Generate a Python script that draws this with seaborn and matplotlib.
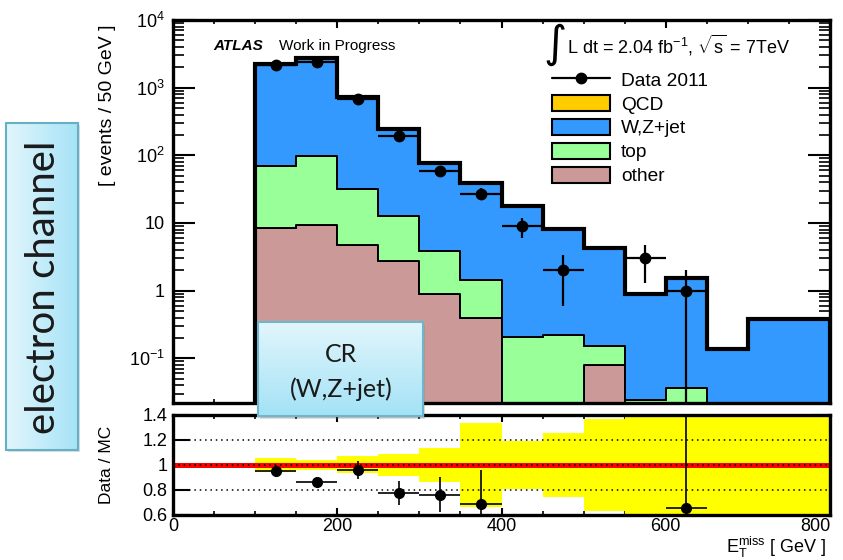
import numpy as np
import pandas as pd
import matplotlib
matplotlib.use("Agg")
import matplotlib.pyplot as plt
from matplotlib.lines import Line2D
from matplotlib.patches import Patch, Rectangle
from matplotlib.colors import LinearSegmentedColormap
from matplotlib.ticker import FixedLocator, MultipleLocator, LogLocator, NullFormatter, FuncFormatter
import seaborn as sns

# 50 GeV bins of missing transverse energy
bin_edges = np.arange(100, 801, 50)
bin_centers = bin_edges[:-1] + 25

# stacked background expectation (events / bin)
qcd = [0, 0, 0, 0, 0, 0, 0, 0, 0, 0, 0, 0, 0, 0]
wzjet = [2190, 2664, 685, 234, 73.1, 38.1, 17.5, 7.85, 4.13, 0.87, 1.48, 0.138, 0.382, 0.385]
top_quark = [61, 87, 27.4, 10.1, 2.97, 1.04, 0.21, 0.22, 0.073, 0.024, 0.037, 0, 0, 0]
other = [8.3, 9.3, 4.8, 2.7, 0.9, 0.39, 0, 0, 0.081, 0, 0, 0, 0, 0]

# observed events with statistical uncertainty
data = [2150, 2390, 688, 191, 58.6, 27.2, 9, 2, np.nan, 3, 1, np.nan, np.nan, np.nan]
data_err = [46, 49, 26, 14, 7.7, 5.2, 3, 1.4, np.nan, 1.7, 1.0, np.nan, np.nan, np.nan]

# ratio panel: uncertainty on data/MC and relative MC uncertainty band
ratio_err = [0.05, 0.03, 0.072, 0.096, 0.14, 0.27, 0.17, 0.7, np.nan, 2.0, 1.0, np.nan, np.nan, np.nan]
mc_band = [0.053, 0.04, 0.068, 0.09, 0.136, 0.333, 0.195, 0.255, 0.37, 0.6, 0.6, 0.6, 0.6, 0.6]

processes = ["QCD", "W,Z+jet", "top", "other"]
colors = {"QCD": "#FFCC00", "W,Z+jet": "#3399FF", "top": "#99FF99", "other": "#CC9999"}

sns.set_theme(style="ticks")
plt.rcParams.update({
    "font.family": ["Liberation Sans", "DejaVu Sans"],
    "mathtext.fontset": "custom",
    "mathtext.rm": "Liberation Sans",
    "mathtext.it": "Liberation Sans:italic",
    "mathtext.bf": "Liberation Sans:bold",
    "axes.linewidth": 2.4,
    "axes.edgecolor": "black",
    "xtick.direction": "in",
    "ytick.direction": "in",
    "xtick.color": "black",
    "ytick.color": "black",
    "text.color": "black",
})

fig = plt.figure(figsize=(8.43, 5.6), dpi=100)
ax = fig.add_axes([0.2052, 0.2795, 0.7794, 0.6848])
rax = fig.add_axes([0.2052, 0.0804, 0.7794, 0.1786])

frame = pd.DataFrame({
    "met": np.tile(bin_centers, len(processes)),
    "events": np.concatenate([qcd, wzjet, top_quark, other]),
    "process": np.repeat(processes, len(bin_centers)),
})
sns.histplot(data=frame, x="met", weights="events", hue="process",
             hue_order=processes, palette=colors, binwidth=50, binrange=(100, 800),
             multiple="stack", element="step", alpha=1.0,
             edgecolor="black", linewidth=1.4, legend=False, ax=ax)

total = np.array(qcd) + np.array(wzjet) + np.array(top_quark) + np.array(other)
ax.stairs(total, bin_edges, baseline=1e-4, color="black", linewidth=3.0, zorder=4)

ax.set_yscale("log")
ax.errorbar(bin_centers, data, yerr=data_err, xerr=25, fmt="o", color="black",
            ms=7.5, elinewidth=1.6, capsize=0, zorder=6)

ax.set_xlim(0, 800)
ax.set_ylim(0.0215, 1e4)
ax.set_xlabel("")
ax.set_ylabel("")

ax.xaxis.set_major_locator(MultipleLocator(200))
ax.xaxis.set_minor_locator(MultipleLocator(50))
ax.yaxis.set_major_locator(FixedLocator([0.1, 1, 10, 100, 1000, 10000]))
ax.yaxis.set_minor_locator(LogLocator(base=10, subs=np.arange(2, 10) * 1.0, numticks=20))
ax.yaxis.set_minor_formatter(NullFormatter())

def log_label(v, pos):
    names = {0.1: r"$10^{-1}$", 1: "1", 10: "10", 100: r"$10^{2}$",
             1000: r"$10^{3}$", 10000: r"$10^{4}$"}
    for k, s in names.items():
        if np.isclose(v, k):
            return s
    return ""

ax.yaxis.set_major_formatter(FuncFormatter(log_label))
ax.tick_params(which="both", top=True, right=True, labelbottom=False)
ax.tick_params(axis="y", which="major", length=16, width=1.5, labelsize=13, pad=6)
ax.tick_params(axis="y", which="minor", length=8, width=1.2)
ax.tick_params(axis="x", which="major", length=6, width=1.5)
ax.tick_params(axis="x", which="minor", length=3, width=1.2)

# ratio panel
rax.stairs(1 + np.array(mc_band), bin_edges, baseline=1 - np.array(mc_band),
           fill=True, color="#FFFF00", zorder=1)
rax.axhline(1.0, color="#FF0000", lw=3.6, zorder=2)
for level in (0.8, 1.0, 1.2):
    rax.axhline(level, color="black", lw=1.1, ls=(0, (1, 2.5)), zorder=3)

ratio = np.array(data) / total
in_range = (ratio >= 0.6) & (ratio <= 1.4)
rax.errorbar(bin_centers[in_range], ratio[in_range], yerr=np.array(ratio_err)[in_range],
             xerr=25, fmt="o", color="black", ms=7, elinewidth=1.2, capsize=0, zorder=5)

rax.set_xlim(0, 800)
rax.set_ylim(0.6, 1.4)
rax.xaxis.set_major_locator(MultipleLocator(200))
rax.xaxis.set_minor_locator(MultipleLocator(50))
rax.yaxis.set_major_locator(FixedLocator([0.6, 0.8, 1.0, 1.2, 1.4]))
rax.yaxis.set_major_formatter(FuncFormatter(lambda v, p: {0.6: "0.6", 0.8: "0.8", 1.0: "1", 1.2: "1.2", 1.4: "1.4"}.get(round(v, 1), "")))
rax.xaxis.set_major_formatter(FuncFormatter(lambda v, p: f"{v:.0f}"))
rax.tick_params(which="both", top=True, right=True)
rax.tick_params(axis="y", which="major", length=12, width=1.5, labelsize=13, pad=4)
rax.tick_params(axis="x", which="major", length=5, width=1.5, labelsize=13, pad=2)
rax.tick_params(axis="x", which="minor", length=3, width=1.2)

W, H = 843.0, 560.0

def fx(px):
    return px / W

def fy(py):
    return 1 - py / H

# axis titles
fig.text(fx(108), fy(105), "[ events / 50 GeV ]", rotation=90, ha="center", va="center", fontsize=14)
fig.text(fx(106), fy(465), "Data / MC", rotation=90, ha="center", va="center", fontsize=12.5)
fig.text(fx(826), fy(553), r"E$_{\mathrm{T}}^{\mathrm{miss}}$ [ GeV ]", ha="right", va="baseline", fontsize=13)

# experiment label
fig.text(fx(213), fy(50), "ATLAS", fontsize=11, weight="bold", style="italic", va="baseline")
fig.text(fx(279), fy(50), "Work in Progress", fontsize=11, va="baseline")

# luminosity and energy
fig.text(fx(543), fy(45), "\u222b", fontsize=32, family="DejaVu Sans", va="center", ha="left")
fig.text(fx(567), fy(54), r"L dt = 2.04 fb$^{-1}$, $\sqrt{\mathrm{s}}$ = 7TeV", fontsize=13, va="baseline")

handles = [Line2D([], [], color="black", marker="o", ms=7.5, lw=1.6)]
handles += [Patch(facecolor=colors[p], edgecolor="black", linewidth=1.5) for p in processes]
labels = ["Data 2011"] + processes
ax.legend(handles, labels, loc="upper left", bbox_to_anchor=(fx(552), fy(71)),
          bbox_transform=fig.transFigure, frameon=False, fontsize=13.8,
          handlelength=3.0, handleheight=0.9, labelspacing=0.28, handletextpad=0.6,
          borderpad=0, borderaxespad=0, numpoints=1)

# annotation boxes drawn on top of the figure
over = fig.add_axes([0, 0, 1, 1], zorder=10)
over.set_xlim(0, W)
over.set_ylim(H, 0)
over.axis("off")
over.patch.set_visible(False)

side_cmap = LinearSegmentedColormap.from_list("side", ["#E2F6FC", "#A6E3F7"])
over.add_patch(Rectangle((8, 125), 72, 327, facecolor="#7a7a7a", alpha=0.25, edgecolor="none"))
over.imshow(np.linspace(0, 1, 256).reshape(1, -1), cmap=side_cmap, aspect="auto",
            extent=(6, 78, 450, 123), zorder=2)
over.add_patch(Rectangle((6, 123), 72, 327, fill=False, edgecolor="#64B0C7", linewidth=1.5, zorder=3))
over.text(44, 287, "electron channel", rotation=90, ha="center", va="center",
          fontsize=29, family="Lato", color="#1a1a1a", zorder=4)

cr_cmap = LinearSegmentedColormap.from_list("cr", ["#E2F6FC", "#A3E2F6"])
over.add_patch(Rectangle((260, 325), 165, 94, facecolor="#7a7a7a", alpha=0.25, edgecolor="none"))
over.imshow(np.linspace(0, 1, 256).reshape(-1, 1), cmap=cr_cmap, aspect="auto",
            extent=(258, 423, 416, 322), zorder=2)
over.add_patch(Rectangle((258, 322), 165, 94, fill=False, edgecolor="#6DB6CC", linewidth=1.5, zorder=3))
over.text(341, 354, "CR", ha="center", va="center", fontsize=18, family="Lato", color="#1a1a1a", zorder=4)
over.text(341, 389, "(W,Z+jet)", ha="center", va="center", fontsize=18, family="Lato", color="#1a1a1a", zorder=4)

# keep the last x tick label inside the canvas
fig.canvas.draw()
for lab in rax.xaxis.get_majorticklabels():
    if lab.get_text() == "800":
        lab.set_horizontalalignment("right")
        lab.set_x(lab.get_position()[0])

fig.savefig("out.png", dpi=100)
